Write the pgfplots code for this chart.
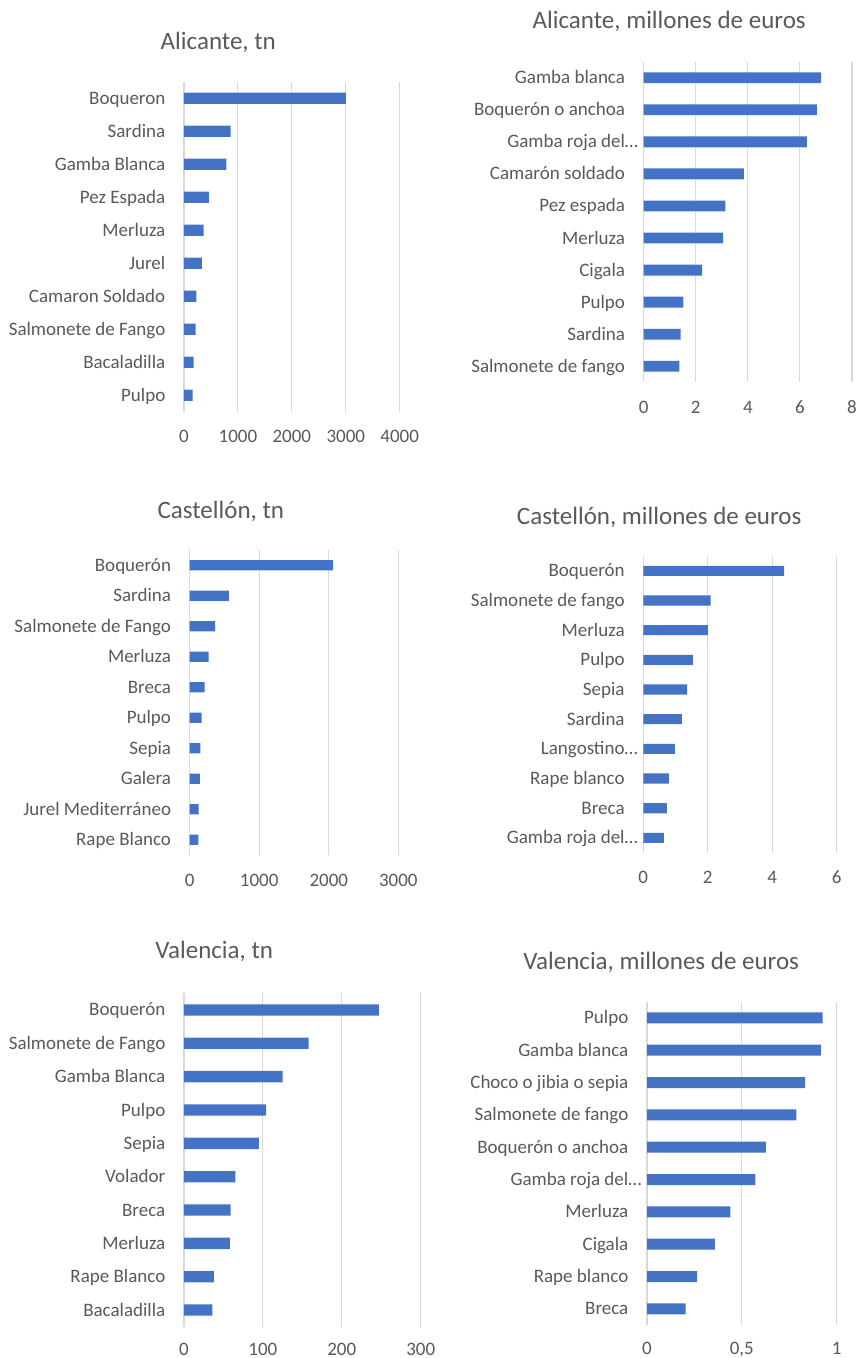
\documentclass[border=0pt]{standalone}
\usepackage{fontspec}
\setmainfont{Carlito}
\usepackage{pgfplots}
\pgfplotsset{compat=1.18}
\definecolor{barblue}{HTML}{4472C4}
\definecolor{txt}{HTML}{595959}
\definecolor{gridc}{HTML}{D9D9D9}
\pgfplotsset{panel/.style={
  scale only axis, anchor=south west,
  xbar, bar width=0.34,
  y dir=reverse, ymin=-0.5, ymax=9.5, ytick={0,...,9},
  xmin=0,
  axis line style={draw=none},
  tick style={draw=none},
  major tick length=0pt,
  xmajorgrids, ymajorgrids=false,
  major grid style={draw=gridc, line width=1.1pt},
  tick label style={font=\fontsize{19}{22}\selectfont, text=txt},
  yticklabel style={anchor=base east, inner sep=0pt, xshift=-18.5pt, yshift=-6pt},
  xticklabel style={anchor=base, inner sep=0pt, yshift=-31pt},
}}
\tikzset{ttl/.style={anchor=base, inner sep=0pt, font=\fontsize{25}{30}\selectfont, text=txt}}
\begin{document}
\begin{tikzpicture}
\useasboundingbox (0pt,0pt) rectangle (859pt,-1358pt);

% Alicante, tn
\node[ttl] at (218.3pt,-49.3pt) {Alicante, tn};
\begin{axis}[panel, at={(184pt,-411.7pt)}, width=215.7pt, height=330pt,
  xmax=4000, xtick={0,1000,2000,3000,4000}, xticklabels={0,1000,2000,3000,4000},
  yticklabels={Boqueron~, Sardina, Gamba Blanca~, Pez Espada~, Merluza~, Jurel, Camaron Soldado, Salmonete de Fango, Bacaladilla, Pulpo}]
\addplot[fill=barblue, draw=none] coordinates {(3000,0) (865,1) (784,2) (463,3) (364,4) (333,5) (228,6) (216,7) (179,8) (160,9)};
\end{axis}

% Alicante, millones
\node[ttl] at (669.2pt,-28.3pt) {Alicante, millones de euros};
\begin{axis}[panel, at={(643.7pt,-382.3pt)}, width=208.3pt, height=320.6pt,
  xmax=8, xtick={0,2,4,6,8}, xticklabels={0,2,4,6,8},
  yticklabels={Gamba blanca, Boquerón o anchoa, Gamba roja del\rlap{…}, Camarón soldado, Pez espada, Merluza, Cigala, Pulpo, Sardina, Salmonete de fango}]
\addplot[fill=barblue, draw=none] coordinates {(6.81,0) (6.65,1) (6.27,2) (3.85,3) (3.14,4) (3.05,5) (2.24,6) (1.52,7) (1.42,8) (1.37,9)};
\end{axis}

% Castellon, tn
\node[ttl] at (220.8pt,-518.3pt) {Castellón, tn};
\begin{axis}[panel, at={(189.7pt,-855pt)}, width=208.6pt, height=305pt,
  xmax=3000, xtick={0,1000,2000,3000}, xticklabels={0,1000,2000,3000},
  yticklabels={Boquerón~, Sardina, Salmonete de Fango, Merluza, Breca, Pulpo, Sepia, Galera, Jurel Mediterráneo, Rape Blanco}]
\addplot[fill=barblue, draw=none] coordinates {(2063,0) (565,1) (364,2) (273,3) (215,4) (172,5) (153,6) (148,7) (129,8) (124,9)};
\end{axis}

% Castellon, millones
\node[ttl] at (659.2pt,-524.3pt) {Castellón, millones de euros};
\begin{axis}[panel, at={(643.3pt,-852.7pt)}, width=193.4pt, height=296.7pt,
  xmax=6, xtick={0,2,4,6}, xticklabels={0,2,4,6},
  yticklabels={Boquerón~, Salmonete de fango, Merluza, Pulpo, Sepia, Sardina, Langostino\rlap{…}, Rape blanco, Breca, Gamba roja del\rlap{…}}]
\addplot[fill=barblue, draw=none] coordinates {(4.37,0) (2.09,1) (2.00,2) (1.54,3) (1.36,4) (1.20,5) (0.98,6) (0.79,7) (0.73,8) (0.64,9)};
\end{axis}

% Valencia, tn
\node[ttl] at (214.2pt,-958.3pt) {Valencia, tn};
\begin{axis}[panel, at={(184pt,-1326.7pt)}, width=236.7pt, height=333.4pt,
  xticklabel style={yshift=2pt},
  xmax=300, xtick={0,100,200,300}, xticklabels={0,100,200,300},
  yticklabels={Boquerón, Salmonete de Fango, Gamba Blanca~, Pulpo, Sepia, Volador, Breca, Merluza~, Rape Blanco, Bacaladilla}]
\addplot[fill=barblue, draw=none] coordinates {(247,0) (158,1) (125,2) (104,3) (95,4) (65,5) (59,6) (58,7) (38,8) (36,9)};
\end{axis}

% Valencia, millones
\node[ttl] at (661.2pt,-969.3pt) {Valencia, millones de euros};
\begin{axis}[panel, at={(647pt,-1325pt)}, width=189.7pt, height=323.3pt,
  xticklabel style={yshift=2pt},
  xmax=1, xtick={0,0.5,1}, xticklabels={0,{0,5},1},
  yticklabels={Pulpo, Gamba blanca, Choco o jibia o sepia, Salmonete de fango, Boquerón o anchoa, Gamba roja del\rlap{…}, Merluza, Cigala, Rape blanco, Breca}]
\addplot[fill=barblue, draw=none] coordinates {(0.926,0) (0.917,1) (0.833,2) (0.787,3) (0.627,4) (0.571,5) (0.439,6) (0.358,7) (0.264,8) (0.204,9)};
\end{axis}
\end{tikzpicture}
\end{document}
